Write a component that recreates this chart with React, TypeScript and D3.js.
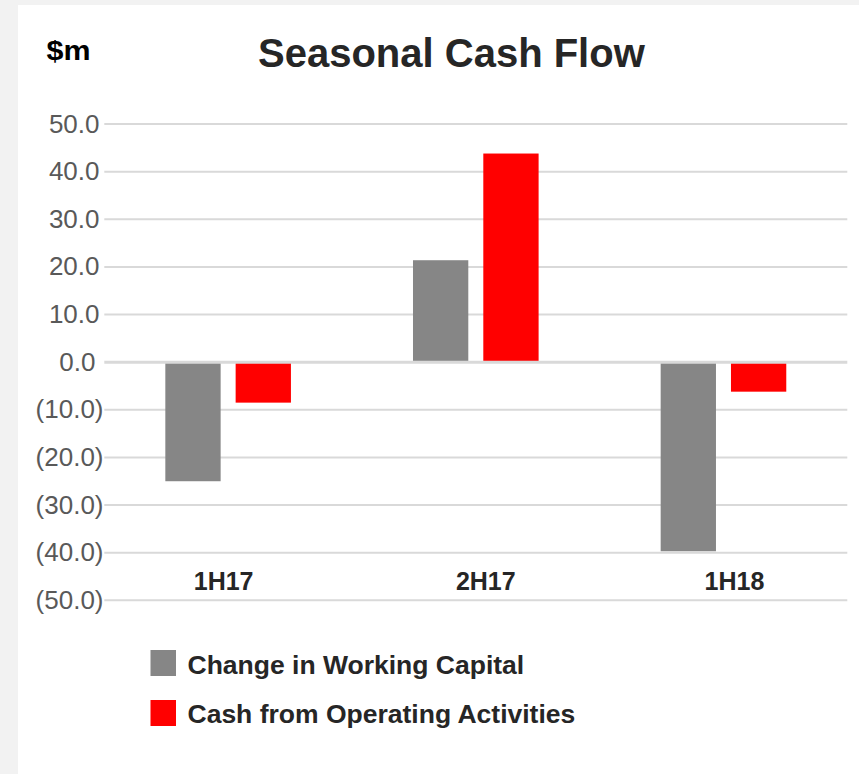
import React from "react";
import * as d3 from "d3";

const categories = ["1H17", "2H17", "1H18"];
const seriesNames = ["Change in Working Capital", "Cash from Operating Activities"];
const workingCapital = [-25.0, 21.4, -39.7];
const operatingCash = [-8.5, 43.8, -6.2];
const yTicks = [50, 40, 30, 20, 10, 0, -10, -20, -30, -40, -50];
const seriesColors = ["#868686", "#ff0000"];

const W = 859;
const H = 774;
const FONT = "'Liberation Sans', Arial, Helvetica, sans-serif";
// small horizontal nudges of the category labels, as placed in the original
const LABEL_NUDGE = [-4.5, 10, 11];

function fmt(v: number): string {
  const s = Math.abs(v).toFixed(1);
  return v < 0 ? `(${s})` : s;
}

export default function App() {
  const x = d3.scaleBand<string>().domain(categories).range([104.3, 847.3]).paddingInner(0).paddingOuter(0);
  const x1 = d3
    .scaleBand<string>()
    .domain(seriesNames)
    .range([0, x.bandwidth()])
    .paddingInner(0.2134)
    .paddingOuter(0.868);
  const y = d3.scaleLinear().domain([-50, 50]).range([600.3, 124]);
  const series = [workingCapital, operatingCash];

  return (
    <svg
      width={W}
      height={H}
      style={{ position: "absolute", left: 0, top: 0, fontFamily: FONT }}
    >
      <rect x={0} y={0} width={W} height={H} fill="#f2f2f2" />
      <rect x={18} y={5} width={W - 18} height={H - 5} fill="#ffffff" />

      <text x={46.5} y={59.5} fontSize={28} fontWeight="bold" fill="#000" textLength={44} lengthAdjust="spacingAndGlyphs">
        $m
      </text>
      <text x={258} y={67} fontSize={40} fontWeight="bold" fill="#262626">
        Seasonal Cash Flow
      </text>

      {yTicks.map((t) => (
        <g key={t}>
          {t !== 0 && (
            <line x1={104.3} x2={847.3} y1={y(t)} y2={y(t)} stroke="#d9d9d9" strokeWidth={2} />
          )}
          <text
            x={t > 0 ? 99.5 : t === 0 ? 95.5 : 103.5}
            y={y(t) + 8.5}
            fontSize={26}
            textAnchor="end"
            fill="#595959"
          >
            {fmt(t)}
          </text>
        </g>
      ))}

      {categories.map((c, i) => (
        <g key={c}>
          {series.map((vals, si) => {
            const v = vals[i];
            const bx = (x(c) as number) + (x1(seriesNames[si]) as number);
            const y0 = y(0);
            const yv = y(v);
            return (
              <rect
                key={si}
                x={bx}
                y={Math.min(y0, yv)}
                width={x1.bandwidth()}
                height={Math.abs(yv - y0)}
                fill={seriesColors[si]}
              />
            );
          })}
        </g>
      ))}

      <line x1={104.3} x2={847.3} y1={y(0)} y2={y(0)} stroke="#d9d9d9" strokeWidth={3} />

      {categories.map((c, i) => (
        <text
          key={c}
          x={(x(c) as number) + x.bandwidth() / 2 + LABEL_NUDGE[i]}
          y={589.5}
          fontSize={25}
          fontWeight="bold"
          textAnchor="middle"
          fill="#262626"
        >
          {c}
        </text>
      ))}

      {seriesNames.map((s, i) => (
        <g key={s}>
          <rect x={150.5} y={650 + i * 50} width={25.5} height={26} fill={seriesColors[i]} />
          <text x={187.5} y={674.3 + i * 49} fontSize={26.5} fontWeight="bold" fill="#262626">
            {s}
          </text>
        </g>
      ))}
    </svg>
  );
}
